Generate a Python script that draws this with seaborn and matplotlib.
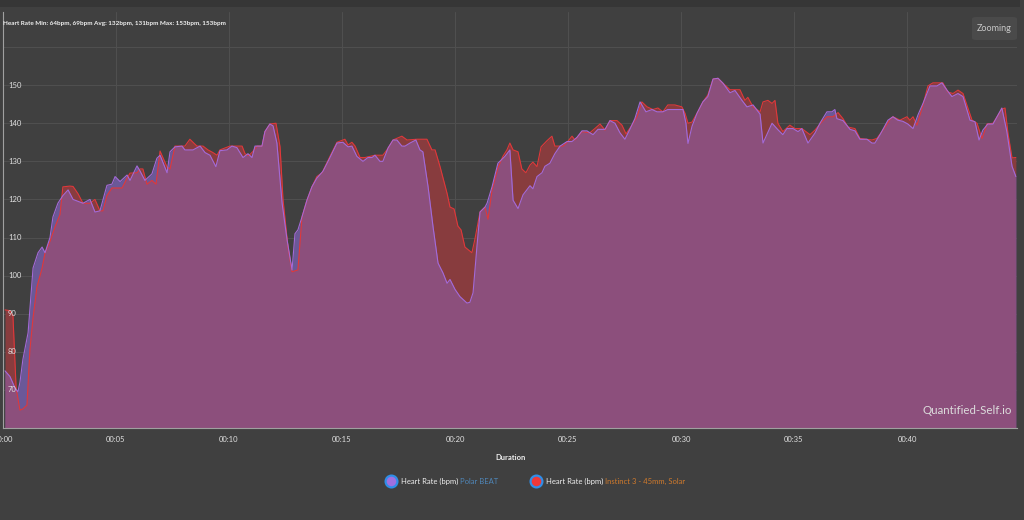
import numpy as np
import pandas as pd
import matplotlib
matplotlib.use('Agg')
import matplotlib.pyplot as plt
from matplotlib.patches import FancyBboxPatch, Rectangle
from matplotlib.lines import Line2D
import seaborn as sns

# Polar BEAT heart rate (minutes, bpm)
polar_min = [0.09, 0.31, 0.53, 0.66, 0.75, 0.88, 1.11, 1.33, 1.55, 1.73, 1.86, 2.08, 2.21, 2.43,
             2.65, 2.88, 3.10, 3.32, 3.54, 3.85, 4.07, 4.29, 4.60, 4.82, 4.96, 5.18, 5.49, 5.62,
             5.93, 6.06, 6.28, 6.59, 6.81, 6.95, 7.26, 7.39, 7.61, 7.92, 8.05, 8.41, 8.72, 8.94,
             9.16, 9.42, 9.60, 9.91, 10.13, 10.35, 10.62, 10.84, 11.02, 11.15, 11.46, 11.59,
             11.81, 11.95, 12.12, 12.35, 12.57, 12.79, 12.92, 13.05, 13.23, 13.45, 13.67, 13.89,
             14.16, 14.47, 14.78, 15.04, 15.27, 15.44, 15.66, 15.93, 16.15, 16.33, 16.46, 16.68,
             16.81, 17.04, 17.26, 17.43, 17.65, 17.79, 18.01, 18.27, 18.45, 18.58, 18.81, 19.03,
             19.25, 19.47, 19.65, 19.78, 20.00, 20.22, 20.53, 20.66, 20.80, 20.97, 21.11, 21.33,
             21.42, 21.64, 21.90, 22.21, 22.43, 22.57, 22.79, 23.01, 23.32, 23.45, 23.63, 23.85,
             23.98, 24.20, 24.42, 24.65, 24.96, 25.18, 25.40, 25.62, 25.84, 26.11, 26.33, 26.64,
             26.86, 27.08, 27.30, 27.52, 27.74, 27.96, 28.19, 28.45, 28.72, 28.94, 29.20, 29.42,
             30.09, 30.22, 30.31, 30.49, 30.71, 30.97, 31.19, 31.42, 31.64, 31.86, 32.17, 32.39,
             32.70, 32.92, 33.19, 33.50, 33.63, 34.03, 34.29, 34.51, 34.69, 34.96, 35.18, 35.35,
             35.62, 35.93, 36.15, 36.46, 36.68, 36.81, 36.90, 37.17, 37.48, 37.70, 37.92, 38.23,
             38.45, 38.58, 38.81, 39.16, 39.38, 39.60, 39.82, 40.04, 40.27, 40.49, 40.71, 41.02,
             41.33, 41.55, 41.77, 41.99, 42.26, 42.48, 42.79, 43.01, 43.19, 43.36, 43.58, 43.81,
             44.20, 44.42, 44.65, 44.82]
polar_bpm = [75, 73.5, 70.5, 69.5, 72, 78, 85, 102, 106, 107.5, 106, 110, 115.4, 119,
             121, 122.5, 120, 119.5, 119, 120, 116.7, 117, 123.7, 124, 126, 124.7, 126.4, 125,
             128.8, 127.5, 125, 126.7, 130.8, 131.6, 127, 132.5, 133.8, 134, 133, 133, 134, 132.3,
             131.6, 128.6, 132.8, 133, 134, 133.6, 131, 132, 131, 134, 134, 137.8,
             139.8, 139.3, 134.8, 119, 109.4, 101.5, 111, 112, 115.4, 119.8, 123.3, 125.6,
             127.4, 131, 134.8, 135, 133.8, 134, 131.3, 130, 131, 131, 131.6, 130,
             130, 133.5, 135.6, 135.6, 134, 134, 134.8, 135.6, 133, 132.5, 123.3, 112.8,
             103.3, 100.7, 98, 99, 96.4, 94.5, 92.8, 93, 95.5, 107.5, 116.7, 118,
             119, 123.3, 129.5, 131.3, 133, 119.8, 117.6, 121.2, 123.6, 122.8, 126, 127,
             128.7, 129.5, 132, 134, 135.2, 135.2, 136.3, 138, 138, 137, 138.4, 138.4,
             140.7, 140, 137.5, 135.8, 138.4, 141.2, 145.6, 143, 143.6, 143, 143, 143.6,
             143.6, 140, 134.7, 139.2, 142.6, 145.6, 147, 151.6, 151.8, 150.5, 148, 148.6,
             146, 144.3, 144.8, 142.4, 134.8, 140, 138.3, 137, 138.6, 138.6, 137.8, 138.6,
             134.8, 137.4, 140, 143, 143, 143.6, 141.2, 140.7, 138.4, 138, 135.8, 135.8,
             134.8, 134.8, 137, 140.8, 141.7, 140.8, 140.5, 139.8, 138.6, 142.2, 145.2, 149.8,
             149.8, 150.6, 148.7, 147, 147.8, 147, 140.8, 140.4, 135.6, 138.2, 139.8, 139.8,
             144, 137.8, 128.7, 126]

# Instinct 3 - 45mm, Solar heart rate (minutes, bpm)
instinct_min = [0.09, 0.31, 0.44, 0.58, 0.75, 0.88, 1.06, 1.19, 1.33, 1.50, 1.73, 1.86, 2.08, 2.30,
                2.52, 2.65, 2.96, 3.10, 3.32, 3.54, 3.85, 4.07, 4.29, 4.42, 4.60, 4.82, 5.04, 5.27,
                5.49, 5.62, 5.93, 6.06, 6.19, 6.37, 6.59, 6.77, 6.95, 7.26, 7.39, 7.61, 8.05, 8.27,
                8.58, 8.85, 9.07, 9.29, 9.47, 9.60, 10.04, 10.58, 10.71, 10.88, 11.06, 11.24, 11.46,
                11.59, 11.81, 12.08, 12.26, 12.39, 12.61, 12.79, 13.05, 13.23, 13.45, 13.67, 13.89,
                14.12, 14.47, 14.78, 15.13, 15.27, 15.44, 15.58, 15.80, 16.02, 16.46, 16.81, 16.99,
                17.26, 17.65, 17.88, 18.32, 18.76, 18.98, 19.12, 19.34, 19.65, 19.78, 19.96, 20.13,
                20.27, 20.44, 20.75, 20.88, 21.11, 21.33, 21.46, 21.64, 21.90, 22.12, 22.30, 22.43,
                22.57, 22.79, 22.96, 23.14, 23.32, 23.45, 23.63, 23.81, 24.07, 24.29, 24.42, 24.78,
                24.96, 25.18, 25.31, 25.62, 25.97, 26.19, 26.42, 26.64, 26.86, 27.17, 27.39, 27.57,
                27.83, 28.05, 28.27, 28.50, 28.76, 28.98, 29.20, 29.42, 29.73, 30.04, 30.18, 30.31,
                30.49, 30.71, 30.97, 31.19, 31.42, 31.64, 31.86, 32.17, 32.61, 32.83, 32.96, 33.19,
                33.50, 33.63, 33.85, 34.03, 34.16, 34.29, 34.51, 34.82, 35.04, 35.35, 35.71, 35.93,
                36.24, 36.46, 36.73, 36.95, 37.17, 37.39, 37.70, 37.92, 38.45, 38.67, 38.94, 39.25,
                39.38, 39.69, 40.00, 40.13, 40.27, 40.44, 40.71, 40.93, 41.15, 41.59, 41.81, 42.04,
                42.26, 42.48, 42.88, 43.10, 43.32, 43.54, 43.81, 44.20, 44.34, 44.47, 44.65, 44.82]
instinct_bpm = [91, 90.8, 89.5, 70.5, 64.7, 65, 66, 80.5, 89, 97, 102, 106, 109, 112.8,
                116, 123.3, 123.5, 123.4, 121.5, 119, 119, 120, 117, 117, 121, 123, 123, 123,
                125.6, 126.9, 127, 128, 128, 124, 125, 124, 132.7, 128.5, 128, 134, 134, 135.8,
                134, 134, 133, 132.3, 131.6, 133, 134, 134, 132, 131.5, 132.6, 134, 134,
                137.8, 139.8, 140, 133.8, 120, 107.5, 101, 101.5, 115.4, 119.8, 123.3, 126,
                127, 131.3, 135, 135.8, 134.3, 135, 134, 131, 131, 131.6, 131.6, 133,
                135.6, 136.6, 135.6, 135.8, 135.8, 133, 133, 128.6, 121.6, 118, 117.5, 113,
                112, 107.5, 106, 109.5, 116.7, 118, 114.8, 122.4, 128.3, 131.3, 133, 134.8,
                133, 132.5, 128, 127, 129, 129.8, 128.6, 133.8, 135.4, 136.6, 134, 134,
                135, 136.6, 135.6, 137.8, 137.5, 138.6, 139.8, 138.2, 140.7, 140.7, 139.5, 137.2,
                139.5, 141.7, 145.6, 144.3, 143.6, 144, 143, 144.8, 144.8, 144.3, 142.6, 140,
                140.3, 142.6, 145.6, 147.4, 151.6, 151.8, 150.5, 148.8, 148.8, 146, 146.8, 144.3,
                143, 145.6, 146, 145.2, 146, 140, 137.8, 139.5, 138.6, 138.6, 137, 138.2,
                140.4, 141.7, 141.7, 142.8, 141.2, 139, 138.6, 136, 135.6, 136, 138.2, 141,
                141.7, 140.8, 141.7, 140.8, 141.7, 139.5, 144.8, 149.8, 150.6, 150.6, 148.2, 147.8,
                148.7, 147.8, 140.8, 140, 136, 139.8, 140, 143.7, 144, 137.4, 130.9, 131]

x_ticks = [0, 5, 10, 15, 20, 25, 30, 35, 40]
x_tick_labels = ['00:00', '00:05', '00:10', '00:15', '00:20', '00:25', '00:30', '00:35', '00:40']
y_ticks = [60, 70, 80, 90, 100, 110, 120, 130, 140, 150, 160]
y_label_ticks = [70, 80, 90, 100, 110, 120, 130, 140, 150]

title = 'Heart Rate Min: 64bpm, 69bpm Avg: 132bpm, 131bpm Max: 153bpm, 153bpm'

bg = '#404040'
purple_fill = '#6b5898'
red_fill = '#883c3e'
overlap_fill = '#8c4f7c'
purple_line = '#a46ad8'
red_line = '#e0383a'

sns.set_style('dark')
plt.rcParams['font.family'] = ['Lato', 'DejaVu Sans']

polar = pd.DataFrame({'minute': polar_min, 'bpm': polar_bpm})
instinct = pd.DataFrame({'minute': instinct_min, 'bpm': instinct_bpm})

fig = plt.figure(figsize=(10.24, 5.2), dpi=100, facecolor=bg)
ax = fig.add_axes([3 / 1024, 1 - 428 / 520, 1014 / 1024, 416 / 520])
ax.set_facecolor(bg)

ymin, ymax = 60, 169.2
# red area, purple area on top, then the overlap clipped to the red area
red_area = ax.fill_between(instinct['minute'], ymin, instinct['bpm'], color=red_fill, lw=0, zorder=2)
ax.fill_between(polar['minute'], ymin, polar['bpm'], color=purple_fill, lw=0, zorder=3)
over = ax.fill_between(polar['minute'], ymin, polar['bpm'], color=overlap_fill, lw=0, zorder=4)
over.set_clip_path(red_area.get_paths()[0], ax.transData)

sns.lineplot(data=instinct, x='minute', y='bpm', color=red_line, linewidth=0.8, ax=ax, zorder=5)
sns.lineplot(data=polar, x='minute', y='bpm', color=purple_line, linewidth=0.8, ax=ax, zorder=6)

ax.set_xlim(0, 44.87)
ax.set_ylim(ymin, ymax)
ax.set_xticks(x_ticks)
ax.set_xticklabels(x_tick_labels)
ax.set_yticks(y_ticks)
ax.set_yticklabels([])
ax.tick_params(axis='x', colors='#9a9a9a', labelcolor='#e0e0e0', labelsize=5.5,
               length=4, width=0.8, direction='out', pad=2)
ax.tick_params(axis='y', colors='#9a9a9a', length=3, width=0.8, direction='in')
# y labels sit inside the plot, above the areas
for v in y_label_ticks:
    ax.annotate(str(v), xy=(0, v), xycoords=ax.get_yaxis_transform(), xytext=(3.6, 0),
                textcoords='offset points', ha='left', va='center', fontsize=5.5,
                color='#e0e0e0', zorder=10)
ax.grid(True, color='#4f4f4f', linewidth=0.8, zorder=0)
ax.set_axisbelow(True)
for side in ['top', 'right']:
    ax.spines[side].set_visible(False)
for side in ['left', 'bottom']:
    ax.spines[side].set_color('#a0a0a0')
    ax.spines[side].set_linewidth(0.8)
    ax.spines[side].set_zorder(7)
ax.set_xlabel('Duration', fontsize=5.5, fontweight='bold', color='#f0f0f0', labelpad=8)
ax.set_ylabel('')

ax.text(0.995, 0.03, 'Quantified-Self.io', transform=ax.transAxes, ha='right', va='bottom',
        fontsize=8.3, color='#dcdcdc', zorder=10)

# top strip
fig.patches.append(Rectangle((0, 1 - 7 / 520), 1020 / 1024, 7 / 520, transform=fig.transFigure,
                             facecolor='#363636', edgecolor='none'))
fig.text(3 / 1024, 1 - 23 / 520, title, fontsize=4.6, fontweight='bold', color='#f0f0f0',
         ha='left', va='center')

# zooming button
fig.patches.append(FancyBboxPatch((972 / 1024, 1 - 40 / 520), 45 / 1024, 23 / 520,
                                  boxstyle='round,pad=0,rounding_size=0.004',
                                  transform=fig.transFigure, facecolor='#4a4a4a', edgecolor='none'))
fig.text(994.5 / 1024, 1 - 28.5 / 520, 'Zooming', fontsize=6.5, color='#c8c8c8',
         ha='center', va='center')

# legend
legend_y = 1 - 481 / 520
entries = [(391, '#a070e0', 401, 'Polar BEAT', '#4f86b8'),
           (536, '#f03838', 546, 'Instinct 3 - 45mm, Solar', '#d07a2c')]
for mx, mcol, tx, name, ncol in entries:
    fig.add_artist(Line2D([mx / 1024], [legend_y], marker='o', markersize=8.5,
                          markerfacecolor=mcol, markeredgecolor='#2f8ee8', markeredgewidth=1.6,
                          transform=fig.transFigure))
    t = fig.text(tx / 1024, legend_y, 'Heart Rate (bpm) ', fontsize=5.5, color='#f0f0f0',
                 ha='left', va='center')
    fig.canvas.draw()
    bb = t.get_window_extent()
    fig.text(bb.x1 / fig.bbox.width, legend_y, name, fontsize=5.5, color=ncol,
             ha='left', va='center')

fig.savefig('out.png', dpi=100, facecolor=bg)
